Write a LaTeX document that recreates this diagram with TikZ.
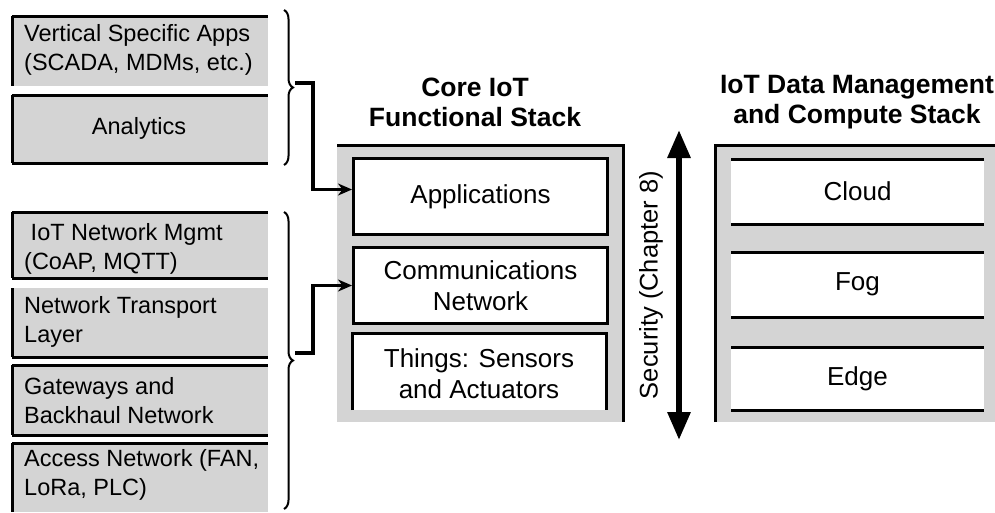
\documentclass[tikz,border=0pt]{standalone}
\usepackage{fontspec}
\setmainfont{Liberation Sans}
\usetikzlibrary{arrows.meta,decorations.pathreplacing,calc}
\definecolor{boxgray}{RGB}{212,212,212}
\begin{document}
\begin{tikzpicture}[x=1pt,y=-1pt,
  lbl/.style={font=\fontsize{23.5}{29}\selectfont, align=left, anchor=west, inner sep=0pt},
  clbl/.style={font=\fontsize{23.5}{29}\selectfont, align=center, inner sep=0pt},
  blbl/.style={font=\fontsize{26}{31}\selectfont, align=center, inner sep=0pt},
  ttl/.style={font=\bfseries\fontsize{26.5}{30}\selectfont, align=center, inner sep=0pt},
  conn/.style={line width=3.6pt, -{Stealth[length=14pt,width=12pt]}},
  brc/.style={line width=2pt, decorate, decoration={brace, amplitude=9pt}},
  edge/.style={line width=3pt},
  wbox/.style={draw, line width=3pt, fill=white, minimum width=254pt, minimum height=76pt, inner sep=0pt, anchor=north west,
  font=\fontsize{26}{31}\selectfont, align=center}
]
\useasboundingbox (0,0) rectangle (995,512);

% ---------- left boxes ----------
\foreach \name/\ya/\yb/\top/\bot in {vsa/16/86/1/0, ana/95/163/1/1, mgmt/212/278/1/1, trans/288/357/0/1, gw/365/435/1/1, acc/443/512/1/0}{
  \fill[boxgray] (12,\ya) rectangle (268,\yb);
  \draw[edge] (12,\ya) -- (12,\yb);
  \ifnum\top=1 \draw[edge] (12,\ya) -- (268,\ya); \fi
  \ifnum\bot=1 \draw[edge] (12,\yb) -- (268,\yb); \fi
}
\node[lbl] (tvsa) at (24,50) {Vertical Specific Apps\\(SCADA, MDMs, etc.)};
\node[clbl] (tana) at (139,128) {Analytics};
\node[lbl] (tmgmt) at (24,249) {\ IoT Network Mgmt\\(CoAP, MQTT)};
\node[lbl] (ttrans) at (24,322) {Network Transport\\Layer};
\node[lbl] (tgw) at (24,401) {Gateways and\\Backhaul Network};
\node[lbl] (tacc) at (24,475) {Access Network (FAN,\\LoRa, PLC)};

% ---------- core stack ----------
\fill[boxgray] (337,145) rectangle (623,422);
\draw[edge] (337,145) -- (623,145) -- (623,422);
\node[ttl] (coret) at (475,102) {Core IoT\\Functional Stack};
\node[wbox] (app) at (352,157) {Applications};
\node[wbox] (comm) at (352,246) {Communications\\Network};
\fill[white] (352,333) rectangle (606,410);
\draw[edge] (352,410) -- (352,333) -- (606,333) -- (606,410);
\node[blbl] (things) at (479,374) {Things: Sensors\\and Actuators};

% ---------- data stack ----------
\fill[boxgray] (715,145) rectangle (995,422);
\draw[edge] (715,422) -- (715,145) -- (995,145);
\node[ttl] (datat) at (857,102) {IoT Data Management\\and Compute Stack};
\foreach \name/\ya/\yb/\txt in {cloud/159/224/Cloud, fog/252/317/Fog, edgeb/347/410/Edge}{
  \fill[white] (731,\ya) rectangle (984,\yb);
  \draw[edge] (731,\ya) -- (984,\ya);
  \draw[edge] (731,\yb) -- (984,\yb);
  \node[blbl] (\name) at (857.5,{(\ya+\yb)/2}) {\txt};
}

% ---------- security ----------
\coordinate (sectop) at (679,130);
\coordinate (secbot) at (679,440);
\draw[line width=6pt, {Triangle[width=22pt,length=28pt]}-{Triangle[width=22pt,length=28pt]}] (sectop) -- (secbot);
\node[rotate=90, font=\fontsize{25.5}{28}\selectfont, inner sep=0pt] (sec) at (651,285) {Security (Chapter 8)};

% ---------- braces & connectors ----------
\draw[brc] (284,10) -- (284,165);
\draw[brc] (284,212) -- (284,509);
\coordinate (tip1) at (295,83);
\coordinate (tip2) at (295,353);
\coordinate (bend1) at (313,83);
\coordinate (bend2) at (313,353);
\draw[conn] (tip1) -- (bend1) |- ($(app.west)+(0,-7)$);
\draw[conn] (tip2) -- (bend2) |- (comm.west);
\end{tikzpicture}
\end{document}
